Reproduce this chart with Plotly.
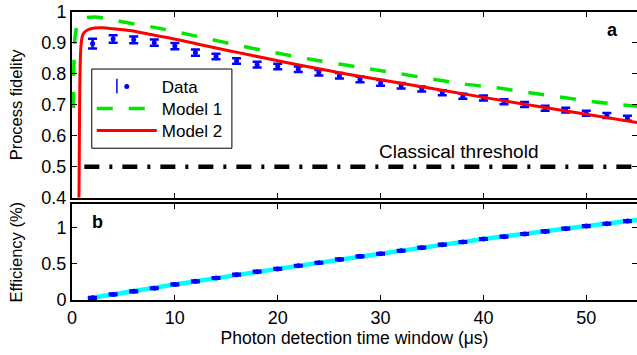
import plotly.graph_objects as go

# ---- data ----
t_data = [2, 4, 6, 8, 10, 12, 14, 16, 18, 20, 22, 24, 26, 28,
          30, 32, 34, 36, 38, 40, 42, 44, 46, 48, 50, 52, 54]
fidelity = [0.898, 0.913, 0.910, 0.901, 0.890, 0.869, 0.856, 0.842, 0.830, 0.824,
            0.815, 0.804, 0.794, 0.782, 0.771, 0.762, 0.751, 0.739, 0.728, 0.722,
            0.710, 0.701, 0.689, 0.683, 0.673, 0.666, 0.657]
fidelity_err = [0.016, 0.012, 0.011, 0.010, 0.010, 0.010, 0.009, 0.009, 0.009, 0.009,
                0.009, 0.009, 0.009, 0.009, 0.009, 0.009, 0.008, 0.008, 0.008, 0.008,
                0.008, 0.008, 0.008, 0.008, 0.008, 0.008, 0.008]
efficiency = [0.030, 0.077, 0.119, 0.161, 0.214, 0.256, 0.302, 0.348, 0.389, 0.427,
              0.471, 0.512, 0.558, 0.600, 0.636, 0.677, 0.719, 0.760, 0.797, 0.838,
              0.870, 0.907, 0.943, 0.980, 1.016, 1.048, 1.085]
efficiency_err = [0.008] * 27

model1_t = [0.13, 0.2, 0.3, 0.5, 0.8, 1.2, 2.2, 3.5, 5.3, 8.4, 11.5, 14.4, 17.5,
            20.5, 23.6, 29.0, 32.0, 35.1, 38.2, 41.3, 44.3, 47.4, 50.5, 53.5, 55.0]
model1_f = [0.690, 0.850, 0.920, 0.955, 0.972, 0.980, 0.984, 0.978, 0.966, 0.948, 0.926,
            0.905, 0.883, 0.864, 0.845, 0.816, 0.800, 0.783, 0.767, 0.755, 0.740,
            0.726, 0.711, 0.700, 0.695]

model2_t = [0.68, 0.72, 0.78, 0.9, 1.1, 1.5, 2.2, 3.0, 4.0, 5.6, 7.5, 9.5, 12.4,
            15.7, 19.2, 22.2, 26.0, 30.0, 35.0, 40.6, 47.0, 55.0]
model2_f = [0.40, 0.60, 0.80, 0.90, 0.930, 0.942, 0.948, 0.949, 0.946, 0.940, 0.928,
            0.916, 0.895, 0.872, 0.848, 0.828, 0.804, 0.781, 0.753, 0.721, 0.686, 0.643]

eff_fit_t = [1.5, 10, 20, 30, 40, 50, 55]
eff_fit = [0.020, 0.212, 0.428, 0.636, 0.838, 1.016, 1.100]

threshold_t = [1.2, 55]
threshold = [0.5, 0.5]

xticks = [0, 10, 20, 30, 40, 50]
fid_ticks = [0.4, 0.5, 0.6, 0.7, 0.8, 0.9, 1.0]
fid_ticklabels = ["0.4", "0.5", "0.6", "0.7", "0.8", "0.9", "1"]
eff_ticks = [0, 0.5, 1]
eff_ticklabels = ["0", "0.5", "1"]

FONT = "Liberation Sans, Arial, Helvetica, sans-serif"
BLUE = "rgb(0,0,255)"

fig = go.Figure()

fig.add_trace(go.Scatter(
    x=threshold_t, y=threshold, mode="lines", showlegend=False,
    line=dict(color="black", width=4.5, dash="15px,10px,3px,10px"),
    xaxis="x", yaxis="y"))

fig.add_trace(go.Scatter(
    x=t_data, y=fidelity, mode="markers", name="Data", legend="legend",
    marker=dict(color=BLUE, size=5),
    error_y=dict(type="data", array=fidelity_err, color=BLUE, thickness=2.5, width=4.5),
    xaxis="x", yaxis="y"))

fig.add_trace(go.Scatter(
    x=model1_t, y=model1_f, mode="lines", name="Model 1", legend="legend2",
    line_shape="spline",
    line=dict(color="rgb(0,230,0)", width=3.5, dash="16px,16px"),
    xaxis="x", yaxis="y"))

fig.add_trace(go.Scatter(
    x=model2_t, y=model2_f, mode="lines", name="Model 2", legend="legend3",
    line_shape="spline",
    line=dict(color="rgb(255,0,0)", width=3),
    xaxis="x", yaxis="y"))

fig.add_trace(go.Scatter(
    x=eff_fit_t, y=eff_fit, mode="lines", showlegend=False, line_shape="spline",
    line=dict(color="rgb(0,255,255)", width=4.5),
    xaxis="x2", yaxis="y2"))

fig.add_trace(go.Scatter(
    x=t_data, y=efficiency, mode="markers", showlegend=False,
    marker=dict(color=BLUE, size=5),
    error_y=dict(type="data", array=efficiency_err, color=BLUE, thickness=3, width=4.5),
    xaxis="x2", yaxis="y2"))

axis_common = dict(showline=True, linecolor="black", linewidth=2, mirror="ticks",
                   ticks="inside", ticklen=5, tickwidth=1, tickcolor="black",
                   showgrid=False, zeroline=False, automargin=False,
                   tickfont=dict(size=18))

leg_common = dict(x=0.035, xanchor="left", yanchor="middle", bgcolor="rgba(0,0,0,0)",
                  borderwidth=0, font=dict(size=17), itemwidth=60)

xr = [0, 54.93]
fig.update_layout(
    width=637, height=355,
    margin=dict(l=72, r=0, t=12, b=55, autoexpand=False),
    paper_bgcolor="white", plot_bgcolor="white",
    font=dict(family=FONT, size=16, color="black"),
    showlegend=True,
    legend=dict(y=0.740, **leg_common),
    legend2=dict(y=0.663, **leg_common),
    legend3=dict(y=0.587, **leg_common),
    xaxis=dict(range=xr, tickvals=xticks, showticklabels=False, anchor="y", **axis_common),
    yaxis=dict(domain=[0.355, 1], range=[0.4, 1.0], tickvals=fid_ticks,
               ticktext=fid_ticklabels, anchor="x",
               title=dict(text="Process fidelity", standoff=15, font=dict(size=16.5)),
               **axis_common),
    xaxis2=dict(range=xr, tickvals=xticks, anchor="y2",
                title=dict(text="Photon detection time window (\u03bcs)", standoff=5,
                           font=dict(size=17.5)),
                **axis_common),
    yaxis2=dict(domain=[0, 0.332], range=[0, 1.314], tickvals=eff_ticks,
                ticktext=eff_ticklabels, anchor="x2",
                title=dict(text="Efficiency (%)", standoff=15, font=dict(size=16.5)),
                **axis_common),
    shapes=[
        # legend frame
        dict(type="rect", xref="paper", yref="paper", x0=0.035, x1=0.283,
             y0=0.527, y1=0.802, fillcolor="white", line=dict(color="black", width=1),
             layer="above"),
        # error bar glyph of the "Data" legend entry
        dict(type="line", xref="paper", yref="paper", x0=0.0795, x1=0.0795,
             y0=0.717, y1=0.768, line=dict(color=BLUE, width=1.5), layer="above"),
    ],
    annotations=[
        dict(text="Classical threshold", x=37.6, y=0.548, xref="x", yref="y",
             showarrow=False, font=dict(size=19)),
        dict(text="<b>a</b>", x=52.5, y=0.943, xref="x", yref="y",
             showarrow=False, font=dict(size=18)),
        dict(text="<b>b</b>", x=2.5, y=1.07, xref="x2", yref="y2",
             showarrow=False, font=dict(size=18)),
    ],
)

fig.write_html("out.html", config={"displayModeBar": False},
               post_script="document.body.style.margin = '0';")
